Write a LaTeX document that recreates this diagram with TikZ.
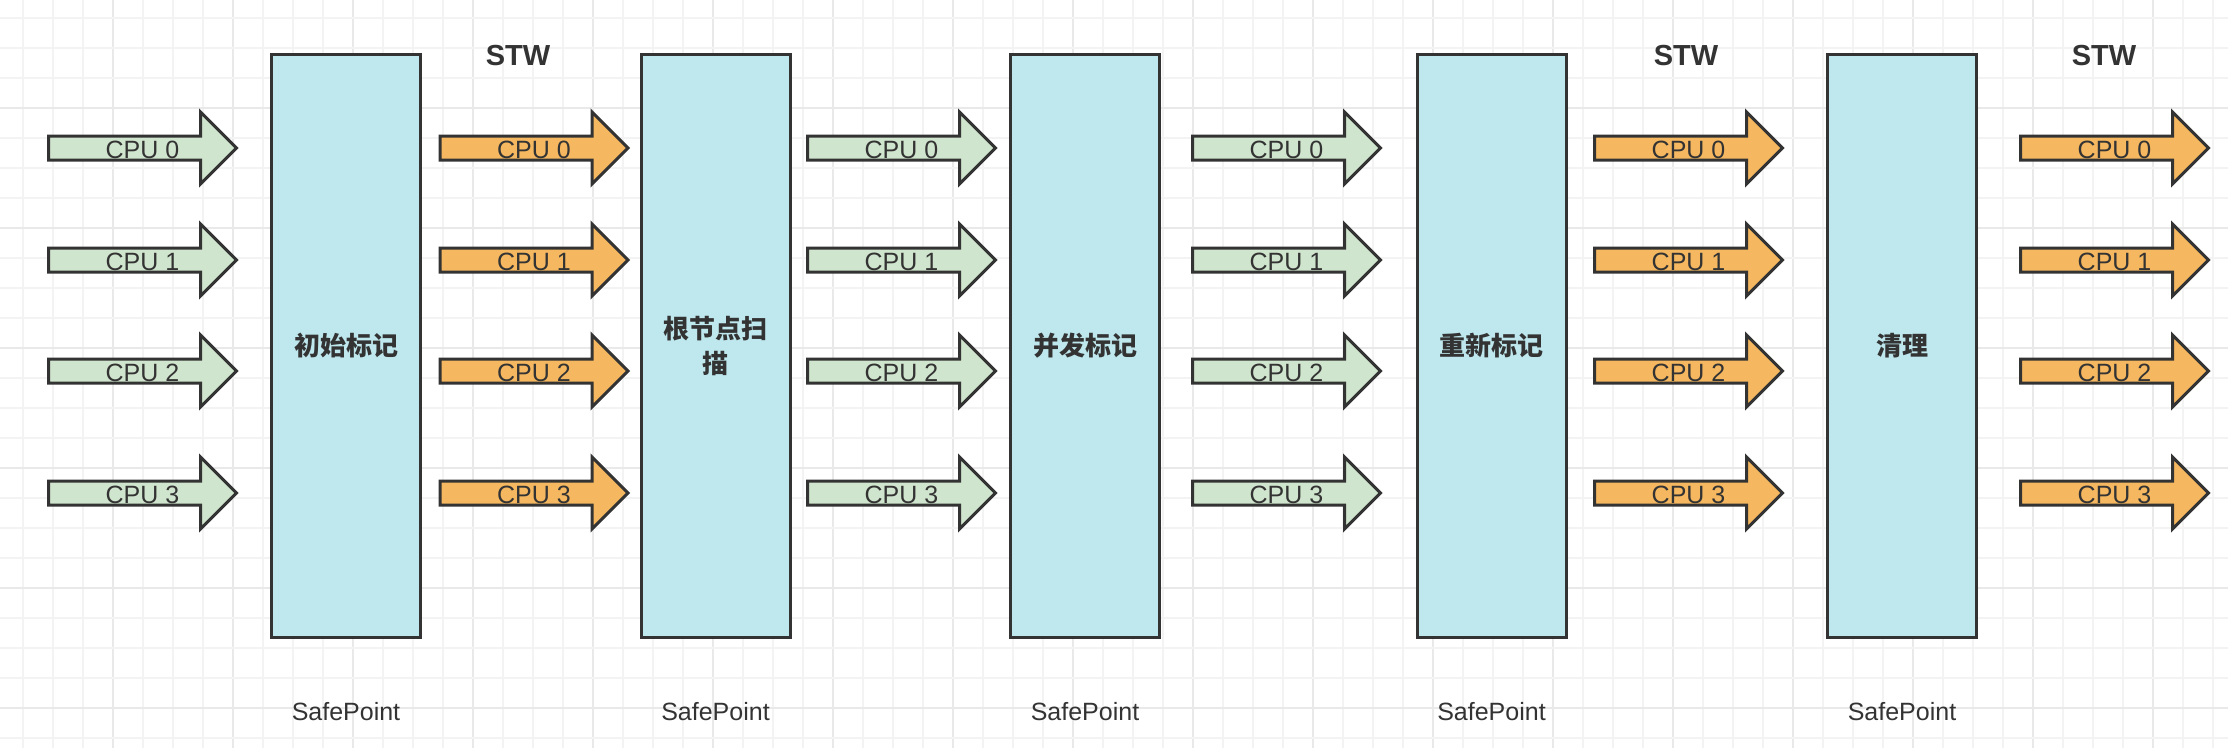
\documentclass[tikz,border=0pt]{standalone}
\usepackage{fontspec}
\setmainfont{Liberation Sans}
\newfontfamily\cjk{Noto Sans CJK SC}
\definecolor{ink}{HTML}{333333}
\definecolor{gfill}{HTML}{D0E5CD}
\definecolor{ofill}{HTML}{F5B860}
\definecolor{bfill}{HTML}{BEE8EE}
\definecolor{gridminor}{HTML}{F3F3F3}
\definecolor{gridmajor}{HTML}{E9E9E9}
\tikzset{
  phasebox/.style={draw=ink, line width=3pt, fill=bfill, minimum width=149pt, minimum height=583pt, inner sep=0pt, align=center, text=ink, font=\cjk\bfseries\fontsize{26}{35}\selectfont, text width=130pt},
  arrowshape/.style={draw=ink, line width=3pt, line join=miter},
  cpulabel/.style={text=ink, font=\fontsize{25}{30}\selectfont, inner sep=0pt},
  stwlabel/.style={text=ink, font=\bfseries\fontsize{29}{34}\selectfont, inner sep=0pt},
  splabel/.style={text=ink, font=\fontsize{25}{30}\selectfont, inner sep=0pt},
}
\newcommand\cpuarrow[5]{%
  \draw[arrowshape, fill=#4] (#2,#3-12) -- ++(152,0) -- ++(0,-24) -- ++(36,36) -- ++(-36,36) -- ++(0,-24) -- ++(-152,0) -- cycle;
  \node[cpulabel] (#1) at (#2+94,#3+2) {#5};}
\begin{document}
\begin{tikzpicture}[x=1pt,y=-1pt]
\useasboundingbox (0,0) rectangle (2228,748);
\fill[white] (0,0) rectangle (2228,748);
% grid
\foreach \i in {0,...,73} {
  \pgfmathsetmacro\gx{23.3+30*\i}
  \pgfmathtruncatemacro\gm{mod(\i+1,4)}
  \ifnum\gm=0
    \draw[gridmajor, line width=2.2pt] (\gx,0) -- (\gx,748);
  \else
    \draw[gridminor, line width=2pt] (\gx,0) -- (\gx,748);
  \fi
}
\foreach \j in {0,...,24} {
  \pgfmathsetmacro\gy{18.3+30*\j}
  \pgfmathtruncatemacro\gm{mod(\j+1,4)}
  \ifnum\gm=0
    \draw[gridmajor, line width=2.2pt] (0,\gy) -- (2228,\gy);
  \else
    \draw[gridminor, line width=2pt] (0,\gy) -- (2228,\gy);
  \fi
}
% phase boxes
\node[phasebox] (b1) at (346,346) {初始标记};
\node[phasebox] (b2) at (715.5,346) {根节点扫\\描};
\node[phasebox] (b3) at (1085,346) {并发标记};
\node[phasebox] (b4) at (1491.5,346) {重新标记};
\node[phasebox] (b5) at (1902,346) {清理};
% safepoints
\node[splabel] (s1) at (346,712) {SafePoint};
\node[splabel] (s2) at (715.5,712) {SafePoint};
\node[splabel] (s3) at (1085,712) {SafePoint};
\node[splabel] (s4) at (1491.5,712) {SafePoint};
\node[splabel] (s5) at (1902,712) {SafePoint};
% STW
\node[stwlabel] (t1) at (518,56) {STW};
\node[stwlabel] (t2) at (1686,56) {STW};
\node[stwlabel] (t3) at (2104,56) {STW};
% arrows
\foreach \c/\xl/\fc in {a/48.5/gfill, b/440/ofill, c/807.5/gfill, d/1192.5/gfill, e/1594.5/ofill, f/2020.5/ofill} {
  \foreach \r/\yc in {0/148, 1/260, 2/371, 3/493} {
    \cpuarrow{\c\r}{\xl}{\yc}{\fc}{CPU \r}
  }
}
\end{tikzpicture}
\end{document}
